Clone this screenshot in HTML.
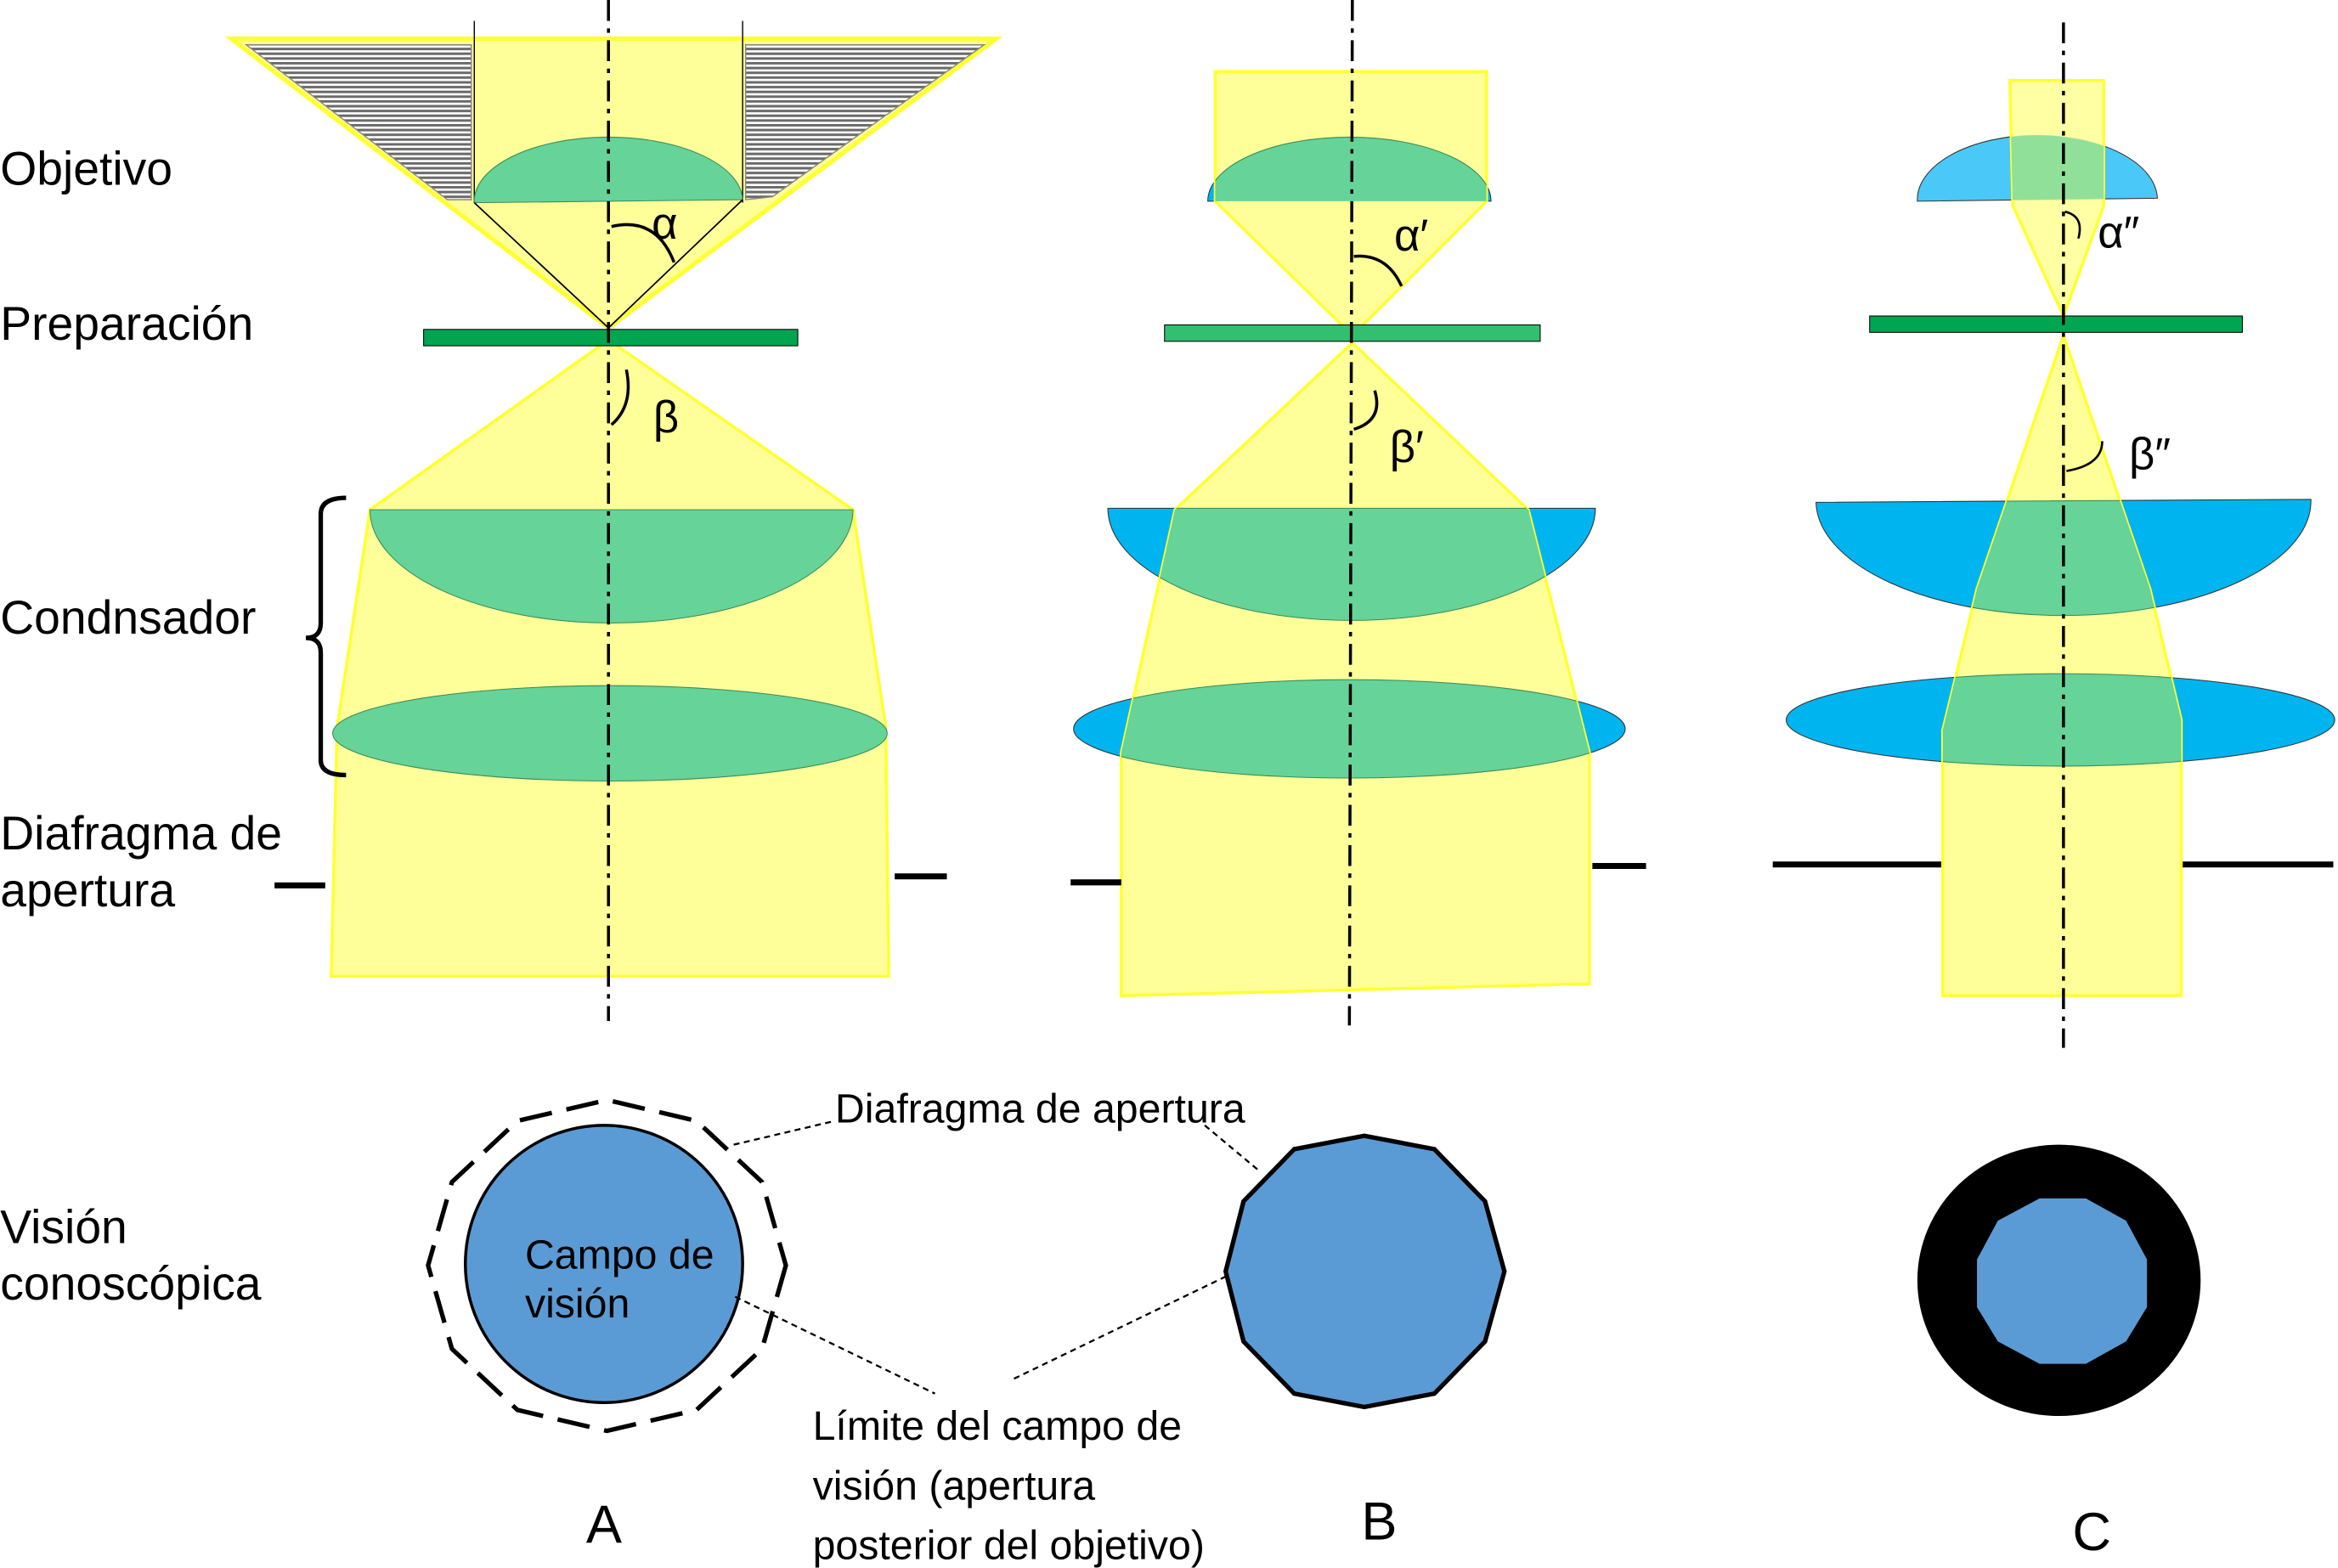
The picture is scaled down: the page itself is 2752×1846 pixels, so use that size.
<!DOCTYPE html>
<html><head><meta charset="utf-8"><style>
html,body{margin:0;padding:0;background:#fff;}
svg{display:block;}
text{font-family:"Liberation Sans",sans-serif;fill:#000;}
</style></head><body>
<svg width="2752" height="1846" viewBox="0 0 1568 1052" xmlns="http://www.w3.org/2000/svg">
<defs>
<pattern id="hatch" width="10" height="3.2" patternUnits="userSpaceOnUse">
<rect width="10" height="3.2" fill="#fff"/><rect y="0" width="10" height="1.7" fill="#6a6a6a"/>
</pattern>
<clipPath id="cB1"><polygon points="815,48 997,48 997,135 907,225 815,135"/></clipPath>
<clipPath id="cB2"><polygon points="907,230 1025,342 1066,505 1066,660 752,668 752,505 788,342"/></clipPath>
<clipPath id="cC1"><polygon points="1348,54 1411,54 1411,138 1384,212 1350,138"/></clipPath>
<clipPath id="cC2"><polygon points="1384,225 1442,395 1463,483 1463,668 1303,668 1303,490 1326,395"/></clipPath>
</defs>

<!-- ===== Column A ===== -->
<polygon points="155,26 668,26 408,220" fill="#FFFF99" stroke="#FFFF33" stroke-width="3"/>
<polygon points="165,30 316,30 316,134 300,134" fill="url(#hatch)" stroke="#888" stroke-width="0.8"/>
<polygon points="500,30 660,30 518,132 500,134" fill="url(#hatch)" stroke="#888" stroke-width="0.8"/>
<line x1="318" y1="14" x2="318" y2="136" stroke="#000" stroke-width="0.8"/>
<line x1="498" y1="14" x2="498" y2="136" stroke="#000" stroke-width="0.8"/>
<path d="M318,136 A90,43 0 0 1 498,134 Z" fill="#66D398" stroke="#3a8a5a" stroke-width="0.6"/>
<line x1="318" y1="136" x2="408" y2="220" stroke="#000" stroke-width="1"/>
<line x1="498" y1="134" x2="408" y2="220" stroke="#000" stroke-width="1"/>
<path d="M410,152 Q440,145 452,176" fill="none" stroke="#000" stroke-width="2"/>
<text x="437" y="160" font-size="30">α</text>

<polygon points="408,228 572,342 594,488 596,655 222,655 226,488 248,342" fill="#FFFF99" stroke="#FFFF33" stroke-width="2"/>
<path d="M248,342 L572,342 A162,76 0 0 1 248,342 Z" fill="#66D398" stroke="#3a8a5a" stroke-width="0.6"/>
<ellipse cx="409" cy="492" rx="186" ry="32" fill="#66D398" stroke="#3a8a5a" stroke-width="0.6"/>
<rect x="284" y="221" width="251" height="11" fill="#00A550" stroke="#000" stroke-width="0.6"/>
<path d="M420,248 Q425,272 410,285" fill="none" stroke="#000" stroke-width="2"/>
<text x="438" y="290" font-size="30">β</text>
<line x1="408" y1="0" x2="408" y2="685" stroke="#000" stroke-width="2" stroke-dasharray="14,5,3,5"/>
<path d="M232,334 Q215,334 215,345 L215,418 Q215,428 205,428 Q215,428 215,438 L215,510 Q215,520 232,520" fill="none" stroke="#000" stroke-width="3"/>
<line x1="184" y1="594" x2="218" y2="594" stroke="#000" stroke-width="4"/>
<line x1="600" y1="588" x2="635" y2="588" stroke="#000" stroke-width="4"/>

<!-- ===== Column B ===== -->
<path d="M810,135 A95,43 0 0 1 1000,135 Z" fill="#00B4F0" stroke="#333" stroke-width="0.6"/>
<polygon points="815,48 997,48 997,135 907,225 815,135" fill="#FFFF99" stroke="#FFFF33" stroke-width="2"/>
<path d="M810,135 A95,43 0 0 1 1000,135 Z" fill="#66D398" clip-path="url(#cB1)"/>
<path d="M810,135 A95,43 0 0 1 1000,135" fill="none" stroke="#3a8a5a" stroke-width="0.6" clip-path="url(#cB1)"/>
<path d="M743,341 L1070,341 A163,75 0 0 1 743,341 Z" fill="#00B4F0" stroke="#333" stroke-width="0.6"/>
<ellipse cx="905" cy="489" rx="185" ry="33" fill="#00B4F0" stroke="#333" stroke-width="0.6"/>
<polygon points="907,230 1025,342 1066,505 1066,660 752,668 752,505 788,342" fill="#FFFF99" stroke="#FFFF33" stroke-width="2"/>
<g clip-path="url(#cB2)">
<path d="M743,341 L1070,341 A163,75 0 0 1 743,341 Z" fill="#66D398" stroke="#3a8a5a" stroke-width="0.6"/>
<ellipse cx="905" cy="489" rx="185" ry="33" fill="#66D398" stroke="#3a8a5a" stroke-width="0.6"/>
</g>
<rect x="781" y="218" width="252" height="11" fill="#33BF70" stroke="#000" stroke-width="0.6"/>
<path d="M908,172 Q930,170 940,192" fill="none" stroke="#000" stroke-width="2"/>
<text x="935" y="168" font-size="30">α′</text>
<path d="M922,262 Q928,282 908,288" fill="none" stroke="#000" stroke-width="2"/>
<text x="932" y="310" font-size="30">β′</text>
<line x1="907" y1="0" x2="905" y2="688" stroke="#000" stroke-width="2" stroke-dasharray="14,5,3,5"/>
<line x1="718" y1="592" x2="752" y2="592" stroke="#000" stroke-width="4"/>
<line x1="1068" y1="581" x2="1104" y2="581" stroke="#000" stroke-width="4"/>

<!-- ===== Column C ===== -->
<path d="M1286,135 A80,43 0 0 1 1447,133 Z" fill="#4AC8F8" stroke="#333" stroke-width="0.6"/>
<polygon points="1348,54 1411,54 1411,138 1384,212 1350,138" fill="#FFFF99" fill-opacity="0.9" stroke="#FFFF33" stroke-width="2"/>
<path d="M1286,135 A80,43 0 0 1 1447,133 Z" fill="#90E09A" clip-path="url(#cC1)"/>
<path d="M1218,337 L1550,335 A166,77 0 0 1 1218,337 Z" fill="#00B4F0" stroke="#333" stroke-width="0.6"/>
<ellipse cx="1382" cy="483" rx="184" ry="31" fill="#00B4F0" stroke="#333" stroke-width="0.6"/>
<polygon points="1384,225 1442,395 1463,483 1463,668 1303,668 1303,490 1326,395" fill="#FFFF99" stroke="#FFFF33" stroke-width="2"/>
<g clip-path="url(#cC2)">
<path d="M1218,337 L1550,335 A166,77 0 0 1 1218,337 Z" fill="#66D398" stroke="#3a8a5a" stroke-width="0.6"/>
<ellipse cx="1382" cy="483" rx="184" ry="31" fill="#66D398" stroke="#3a8a5a" stroke-width="0.6"/>
</g>
<rect x="1254" y="212" width="250" height="11" fill="#00A550" stroke="#000" stroke-width="0.6"/>
<path d="M1385,142 Q1398,145 1394,160" fill="none" stroke="#000" stroke-width="1.5"/>
<text x="1407" y="166" font-size="30">α″</text>
<path d="M1410,296 Q1410,312 1386,316" fill="none" stroke="#000" stroke-width="1.5"/>
<text x="1428" y="315" font-size="30">β″</text>
<line x1="1384" y1="15" x2="1384" y2="703" stroke="#000" stroke-width="2" stroke-dasharray="14,5,3,5"/>
<line x1="1189" y1="580" x2="1302" y2="580" stroke="#000" stroke-width="4"/>
<line x1="1464" y1="580" x2="1565" y2="580" stroke="#000" stroke-width="4"/>

<!-- ===== Left labels ===== -->
<text x="0" y="124" font-size="31.5">Objetivo</text>
<text x="0" y="228" font-size="31.5">Preparación</text>
<text x="0" y="425" font-size="31.5">Condnsador</text>
<text x="0" y="570" font-size="31.5">Diafragma de</text>
<text x="0" y="608" font-size="31.5">apertura</text>
<text x="0" y="834" font-size="31.5">Visión</text>
<text x="0" y="872" font-size="31.5">conoscópica</text>

<!-- ===== Bottom views ===== -->
<polygon points="527,849 511,905 467,946 407,960 347,946 303,905 287,849 303,793 347,752 407,738 467,752 511,793" fill="none" stroke="#000" stroke-width="3" stroke-dasharray="22,10"/>
<circle cx="405" cy="848" r="93" fill="#5B9BD5" stroke="#000" stroke-width="2"/>
<text x="352" y="851" font-size="27.5">Campo de</text>
<text x="352" y="884" font-size="27.5">visión</text>

<polygon points="1009,853 996,900 962,935 915,944 868,935 834,900 822,853 834,806 868,771 915,762 962,771 996,806" fill="#5B9BD5" stroke="#000" stroke-width="3"/>

<ellipse cx="1381" cy="859" rx="95" ry="91" fill="#000"/>
<polygon points="1368,804 1399,804 1426,819 1440,845 1440,877 1426,900 1399,915 1368,915 1340,900 1326,877 1326,845 1340,819" fill="#5B9BD5"/>

<line x1="492" y1="768" x2="560" y2="752" stroke="#000" stroke-width="1.3" stroke-dasharray="4,3"/>
<line x1="808" y1="755" x2="845" y2="786" stroke="#000" stroke-width="1.3" stroke-dasharray="4,3"/>
<line x1="493" y1="870" x2="627" y2="935" stroke="#000" stroke-width="1.3" stroke-dasharray="4,3"/>
<line x1="680" y1="925" x2="823" y2="856" stroke="#000" stroke-width="1.3" stroke-dasharray="4,3"/>

<text x="560" y="753" font-size="27.5">Diafragma de apertura</text>
<text x="545" y="966" font-size="27.5">Límite del campo de</text>
<text x="545" y="1006" font-size="27.5">visión (apertura</text>
<text x="545" y="1046" font-size="27.5">posterior del objetivo)</text>

<text x="393" y="1035" font-size="36">A</text>
<text x="913" y="1033" font-size="36">B</text>
<text x="1390" y="1040" font-size="36">C</text>
</svg>
</body></html>
